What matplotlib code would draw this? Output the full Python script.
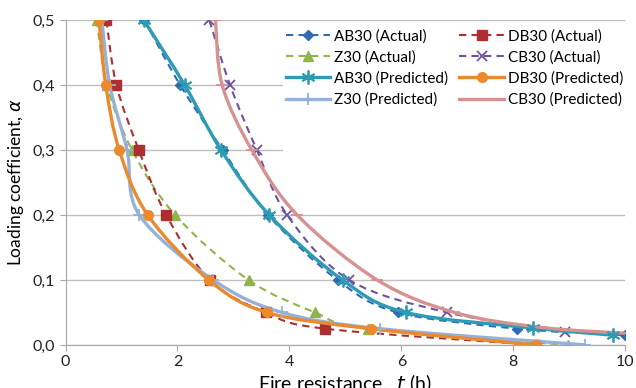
import numpy as np
import matplotlib
matplotlib.use("Agg")
import matplotlib.pyplot as plt
from matplotlib.path import Path
from matplotlib.patches import PathPatch, Rectangle
from matplotlib.lines import Line2D

plt.rcParams['font.family'] = ['Lato', 'DejaVu Sans']

# loading coefficient levels (alpha) and fire resistance t (h)
a_std = [0.5, 0.4, 0.3, 0.2, 0.1, 0.05, 0.025, 0.015]
a_low = [0.5, 0.4, 0.3, 0.2, 0.1, 0.05, 0.025, 0.0]

ab30_act_t = [1.41, 2.05, 2.81, 3.62, 4.86, 5.94, 8.07, 10.0]
ab30_act_a = a_std
db30_act_t = [0.73, 0.91, 1.31, 1.80, 2.58, 3.58, 4.64, 8.40]
db30_act_a = a_low
z30_act_t = [0.56, 0.74, 1.19, 1.96, 3.27, 4.46, 5.40, 8.98]
z30_act_a = a_low
cb30_act_t = [2.57, 2.94, 3.42, 3.96, 5.07, 6.82, 8.93]
cb30_act_a = [0.5, 0.4, 0.3, 0.2, 0.1, 0.05, 0.02]

ab30_pred_t = [1.40, 2.13, 2.78, 3.64, 4.95, 6.08, 8.36, 9.79]
ab30_pred_a = [0.5, 0.4, 0.3, 0.2, 0.1, 0.05, 0.026, 0.015]
db30_pred_t = [0.60, 0.72, 0.96, 1.47, 2.56, 3.60, 5.45, 8.40]
db30_pred_a = a_low
z30_pred_t = [0.65, 0.79, 1.10, 1.32, 2.64, 3.87, 5.62, 9.29]
z30_pred_a = a_low
cb30_pred_t = [2.68, 2.80, 3.33, 4.14, 5.57, 6.95, 8.50, 10.0]
cb30_pred_a = [0.5, 0.4, 0.3, 0.2, 0.1, 0.05, 0.027, 0.018]


def smooth_path(x, y):
    # Excel-like smoothed line: Bezier segments with Catmull-Rom tangents
    pts = np.column_stack([x, y]).astype(float)
    n = len(pts)
    verts = [pts[0]]
    codes = [Path.MOVETO]
    for i in range(n - 1):
        p0 = pts[i - 1] if i > 0 else pts[i]
        p1, p2 = pts[i], pts[i + 1]
        p3 = pts[i + 2] if i + 2 < n else pts[i + 1]
        verts += [p1 + (p2 - p0) / 6, p2 - (p3 - p1) / 6, p2]
        codes += [Path.CURVE4] * 3
    return Path(verts, codes)


series = [
    # label, t, a, color, marker, msize, dashed
    ("AB30 (Actual)", ab30_act_t, ab30_act_a, '#2F6AB2', 'D', 5.5, True),
    ("Z30 (Actual)", z30_act_t, z30_act_a, '#8FB44A', '^', 7, True),
    ("AB30 (Predicted)", ab30_pred_t, ab30_pred_a, '#2C9BB3', (6, 2, 0), 10, False),
    ("Z30 (Predicted)", z30_pred_t, z30_pred_a, '#95B1DA', '+', 9, False),
    ("DB30 (Actual)", db30_act_t, db30_act_a, '#AD2E30', 's', 7, True),
    ("CB30 (Actual)", cb30_act_t, cb30_act_a, '#6D52A0', 'x', 7, True),
    ("DB30 (Predicted)", db30_pred_t, db30_pred_a, '#EA8A2E', 'o', 7, False),
    ("CB30 (Predicted)", cb30_pred_t, cb30_pred_a, '#D69191', '_', 8, False),
]

fig = plt.figure(figsize=(6.36, 3.88), dpi=100)
ax = fig.add_axes([0.103, 0.111, 0.880, 0.837])

handles = []
for lab, t, a, col, mk, ms, dashed in series:
    lw = 1.5 if dashed else 2.4
    ls = (0, (3.5, 2.5)) if dashed else '-'
    z = 3 if dashed else 4
    ax.add_patch(PathPatch(smooth_path(t, a), fill=False, edgecolor=col,
                           lw=lw, linestyle=ls, zorder=z, capstyle='butt'))
    mew = 1.3 if mk in ('x', '+', '_') or isinstance(mk, tuple) else 1
    ax.plot(t, a, linestyle='none', marker=mk, ms=ms, color=col,
            mec=col, mew=mew, zorder=z + 0.5)
    handles.append(Line2D([], [], color=col, lw=lw, linestyle=ls,
                          marker=mk, ms=ms, mew=mew))

# white area behind the legend hides the gridlines there
ax.add_patch(Rectangle((0.388, 0.47), 0.62, 0.515, transform=ax.transAxes,
                       facecolor='white', edgecolor='none', zorder=1))

ax.set_xlim(0, 10)
ax.set_ylim(0, 0.5)
ax.set_xticks([0, 2, 4, 6, 8, 10])
ax.set_yticks([0, 0.1, 0.2, 0.3, 0.4, 0.5])
ax.set_yticklabels(["0,0", "0,1", "0,2", "0,3", "0,4", "0,5"])
ax.tick_params(labelsize=11.5, length=4, labelcolor='#222222', color='#A6A6A6')
ax.grid(axis='y', color='#BFBFBF', lw=1)
ax.set_axisbelow(True)
for s in ['top', 'right']:
    ax.spines[s].set_visible(False)
for s in ['left', 'bottom']:
    ax.spines[s].set_color('#A6A6A6')

ax.set_xlabel("Fire resistance,  $t$ (h)", fontsize=14, labelpad=2)
ax.set_ylabel("Loading coefficient, $\\alpha$", fontsize=12.5, labelpad=5)

ax.legend(handles, [s[0] for s in series], ncol=2, loc='upper right',
          bbox_to_anchor=(1.0125, 1.0), frameon=False, fontsize=11,
          handlelength=2.9, handletextpad=0.26, columnspacing=0.75,
          labelspacing=0.44, borderaxespad=0.2)

fig.savefig("out.png", dpi=100)
